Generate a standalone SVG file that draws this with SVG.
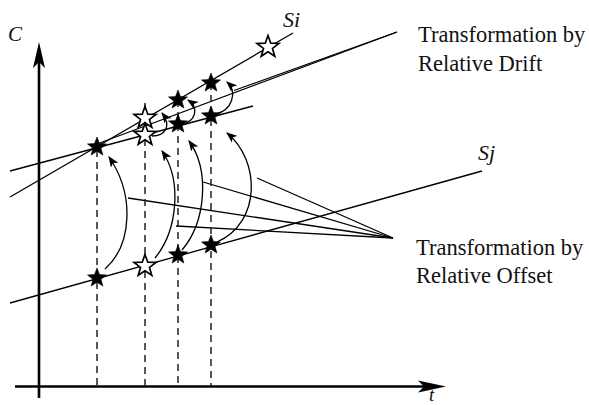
<svg xmlns="http://www.w3.org/2000/svg" width="589" height="405" viewBox="0 0 589 405">
<style>
.ln{fill:none;stroke:#000;stroke-width:1.3}
.dash{fill:none;stroke:#222;stroke-width:1.5;stroke-dasharray:7 5}
.arc{fill:none;stroke:#000;stroke-width:1.3;marker-end:url(#ah)}
.ax{fill:none;stroke:#000;stroke-width:2.6}
.lbl{font-family:"Liberation Serif","Times New Roman",serif;font-size:22.5px;fill:#111}
.it{font-family:"Liberation Serif","Times New Roman",serif;font-style:italic;font-size:21px;fill:#111}
.fs{fill:#000;stroke:#000;stroke-width:0.6}
.os{fill:#fff;stroke:#000;stroke-width:1.7;stroke-linejoin:miter}
</style>
<defs>
<marker id="ah" viewBox="0 0 10 8" markerWidth="11" markerHeight="8.8" refX="9" refY="4" orient="auto" markerUnits="userSpaceOnUse">
<path d="M0,0 L10,4 L0,8 L2.5,4 Z" fill="#000"/>
</marker>
<path id="fstar" d="M0,-10 L2.47,-3.4 L9.51,-3.09 L3.99,1.3 L5.88,8.09 L0,4.2 L-5.88,8.09 L-3.99,1.3 L-9.51,-3.09 L-2.47,-3.4 Z"/>
<path id="ostar" d="M0,-11.5 L2.76,-3.8 L10.94,-3.55 L4.47,1.45 L6.76,9.3 L0,4.7 L-6.76,9.3 L-4.47,1.45 L-10.94,-3.55 L-2.76,-3.8 Z"/>
</defs>
<g id="axes">
<line class="ax" x1="39" y1="398" x2="39" y2="60"/>
<path d="M39,42 L45,68 L39,62 L33,68 Z" fill="#000"/>
<line class="ax" x1="15" y1="386.5" x2="428" y2="386.5"/>
<path d="M446,386.5 L418,392.5 L424,386.5 L418,380.5 Z" fill="#000"/>
<text class="it" x="8" y="41">C</text>
<text class="it" x="429" y="401" style="font-size:19px">t</text>
</g>
<g id="connectors">
<line class="ln" x1="10" y1="197" x2="293" y2="33"/>
<line class="ln" x1="10" y1="171" x2="253" y2="106"/>
<line class="ln" x1="10" y1="303" x2="482" y2="171"/>
<line class="ln" x1="97" y1="144" x2="397" y2="32"/>
<line class="ln" x1="234" y1="90.5" x2="397" y2="32"/>
<line class="ln" x1="393" y1="238" x2="257" y2="178"/>
<line class="ln" x1="393" y1="238" x2="203" y2="182"/>
<line class="ln" x1="393" y1="238" x2="128" y2="198"/>
<line class="ln" x1="393" y1="238" x2="176" y2="226"/>
<line class="dash" x1="97" y1="150" x2="97" y2="386"/>
<line class="dash" x1="145" y1="103" x2="145" y2="386"/>
<line class="dash" x1="178" y1="100" x2="178" y2="386"/>
<line class="dash" x1="211" y1="83" x2="211" y2="386"/>
<path class="arc" d="M105,269 C132,245 135,195 109,157"/>
<path class="arc" d="M155,258 C178,230 182,180 162,151"/>
<path class="arc" d="M182,250 C206,222 210,170 189,141"/>
<path class="arc" d="M217,242 C262,222 260,160 227,133"/>
<path class="arc" d="M152,136 C165,136 172,126 162,113"/>
<path class="arc" d="M182,124 C195,122 200,108 188,100"/>
<path class="arc" d="M216,114 C232,110 238,92 227,82"/>
</g>
<g id="stars">
<use href="#fstar" class="fs" x="97" y="147"/>
<use href="#fstar" class="fs" x="178" y="100"/>
<use href="#fstar" class="fs" x="178" y="124"/>
<use href="#fstar" class="fs" x="211" y="83"/>
<use href="#fstar" class="fs" x="211" y="116"/>
<use href="#fstar" class="fs" x="97" y="278"/>
<use href="#fstar" class="fs" x="178" y="255"/>
<use href="#fstar" class="fs" x="211" y="245"/>
<use href="#ostar" class="os" x="145" y="118"/>
<use href="#ostar" class="os" x="145" y="135"/>
<use href="#ostar" class="os" x="268" y="47"/>
<use href="#ostar" class="os" x="145" y="266"/>
</g>
<g id="label-si"><text class="it" x="283" y="26.5" style="font-size:22px">Si</text></g>
<g id="label-sj"><text class="it" x="478" y="160" style="font-size:22px">Sj</text></g>
<g id="label-drift">
<text class="lbl" x="418" y="41.5">Transformation by</text>
<text class="lbl" x="418" y="70.5">Relative Drift</text>
</g>
<g id="label-offset">
<text class="lbl" x="416" y="255">Transformation by</text>
<text class="lbl" x="416" y="282.5">Relative Offset</text>
</g>
</svg>
